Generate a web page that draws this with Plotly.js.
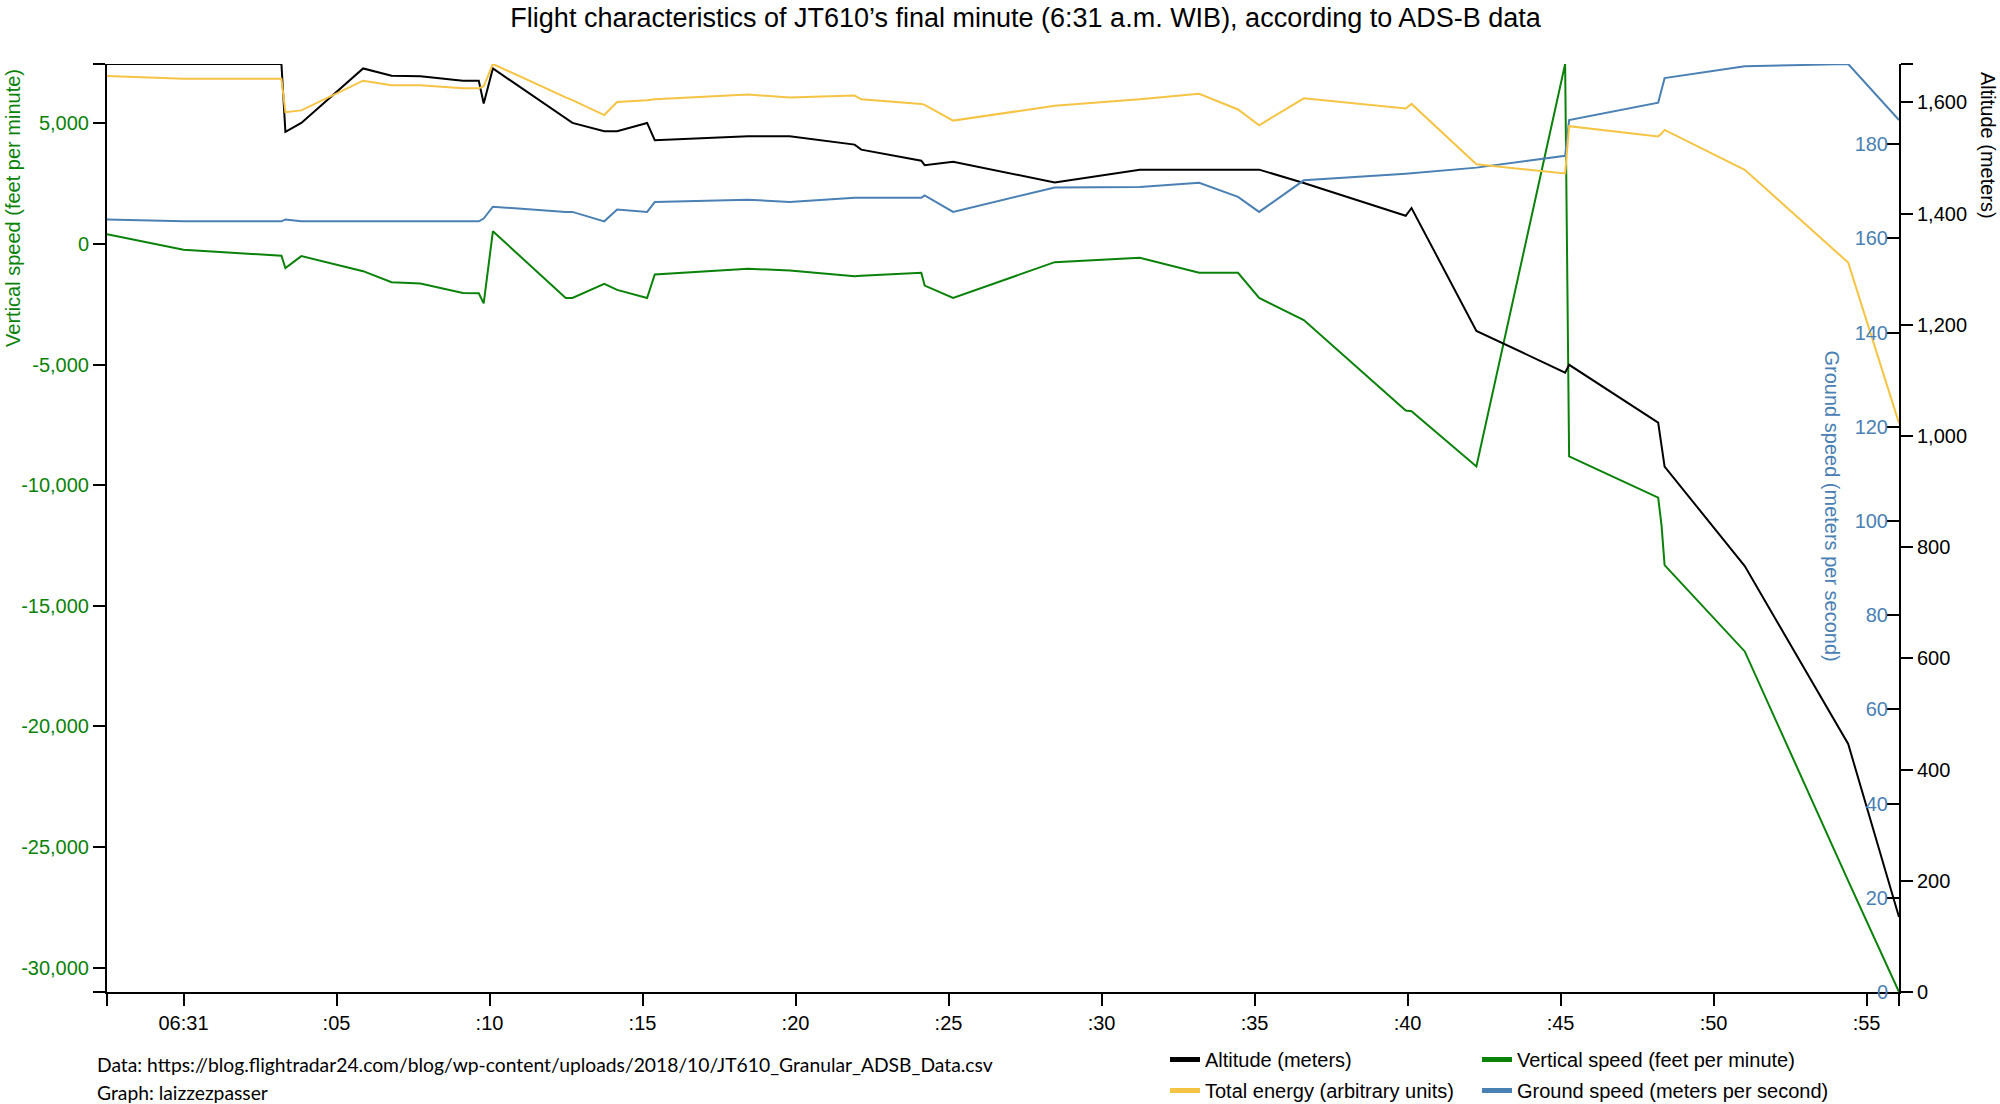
<!DOCTYPE html>
<html>
<head>
<meta charset="utf-8">
<script src="https://cdn.plot.ly/plotly-3.0.1.min.js"></script>
<style>
    html, body { margin: 0; padding: 0; background: #fff; }
    #chart { width: 2000px; height: 1104px; }
</style>
</head>
<body>
<div id="chart"></div>
<script>
// Time of each ADS-B sample, in seconds after 06:31:00 WIB
const seconds = [-2.5, 0, 3.2, 3.33, 3.85, 5.87, 6.8, 7.74, 9.13, 9.65, 9.81, 10.11, 12.49, 12.71, 13.75, 14.17, 15.15, 15.4, 18.45, 19.81, 21.93, 22.15, 24.11, 24.22, 25.15, 28.47, 31.25, 33.19, 34.46, 35.15, 36.61, 39.94, 40.13, 42.25, 45.15, 45.28, 48.19, 48.3, 48.4, 51.02, 54.4, 56.06];

// Series
const altitude = [1669, 1669, 1669, 1547, 1563, 1661, 1648, 1647, 1639, 1639, 1598, 1661, 1572, 1563, 1548, 1548, 1563, 1532, 1539, 1539, 1524, 1515, 1495, 1487, 1493, 1456, 1479, 1479, 1479, 1479, 1455, 1396, 1410, 1189, 1114, 1128, 1024, 985, 945, 766, 446, 135];
const verticalSpeed = [400, -238, -488, -1004, -504, -1129, -1588, -1642, -2029, -2046, -2463, 525, -2238, -2238, -1654, -1904, -2238, -1267, -1029, -1100, -1338, -1320, -1196, -1725, -2238, -754, -571, -1196, -1196, -2238, -3154, -6904, -6934, -9225, 7460, -8809, -10513, -11663, -13317, -16892, -26400, -31010];
const groundSpeed = [164.0, 163.6, 163.6, 164.0, 163.6, 163.6, 163.6, 163.6, 163.6, 163.6, 164.2, 166.7, 165.6, 165.6, 163.6, 166.1, 165.6, 167.7, 168.2, 167.7, 168.6, 168.6, 168.6, 169.1, 165.6, 170.8, 170.9, 171.8, 168.8, 165.6, 172.3, 173.7, 173.8, 175.0, 177.5, 185.1, 188.8, 191.4, 194.0, 196.5, 197.0, 185.1];
const totalEnergy = [98.7, 98.4, 98.4, 94.8, 95.0, 98.2, 97.7, 97.7, 97.4, 97.4, 97.6, 100, 96.4, 96.1, 94.5, 95.9, 96.1, 96.2, 96.7, 96.4, 96.6, 96.2, 95.7, 95.6, 93.9, 95.5, 96.2, 96.8, 95.1, 93.4, 96.3, 95.2, 95.7, 89.2, 88.2, 93.3, 92.2, 92.5, 92.9, 88.6, 78.6, 61.3];

// Ticks
const timeTickVals = [0, 5, 10, 15, 20, 25, 30, 35, 40, 45, 50, 55];
const timeTickText = ['06:31', ':05', ':10', ':15', ':20', ':25', ':30', ':35', ':40', ':45', ':50', ':55'];
const vsTickVals = [-30000, -25000, -20000, -15000, -10000, -5000, 0, 5000];
const altTickVals = [0, 200, 400, 600, 800, 1000, 1200, 1400, 1600];
const gsTickVals = [0, 20, 40, 60, 80, 100, 120, 140, 160, 180];

const BLACK = '#000000';
const GREEN = '#0a820a';
const YELLOW = '#f6c444';
const BLUE = '#4a80b3';
const FONT = 'Liberation Sans, Arial, Helvetica, sans-serif';
const NOTE_FONT = 'Lato, sans-serif';

const fmt = v => v.toLocaleString('en-US');
const extent = arr => [Math.min(...arr), Math.max(...arr)];

const xExt = extent(seconds);
const vsExt = extent(verticalSpeed);
const altMax = Math.max(...altitude);
const gsMax = Math.max(...groundSpeed);
const eMax = Math.max(...totalEnergy);

// d3-style outer ticks at both ends of an axis (no label)
function withEnds(vals, labels, lo, hi) {
    return { v: [lo, ...vals, hi], t: ['', ...labels, ''] };
}
const xT = withEnds(timeTickVals, timeTickText, xExt[0], xExt[1]);
const vsT = withEnds(vsTickVals, vsTickVals.map(fmt), vsExt[0], vsExt[1]);
const altT = { v: [...altTickVals, altMax], t: [...altTickVals.map(fmt), ''] };

const lineTrace = (y, axis, color) => ({
    x: seconds, y: y, type: 'scatter', mode: 'lines', yaxis: axis,
    line: { color: color, width: 2 }, showlegend: false, hoverinfo: 'skip'
});

const traces = [
    lineTrace(altitude, 'y2', BLACK),
    lineTrace(totalEnergy, 'y4', YELLOW),
    lineTrace(verticalSpeed, 'y', GREEN),
    lineTrace(groundSpeed, 'y3', BLUE)
];

// Legend entries (two columns -> two legends)
const legendItems = [
    { name: 'Altitude (meters)', color: BLACK, legend: 'legend' },
    { name: 'Total energy (arbitrary units)', color: YELLOW, legend: 'legend' },
    { name: 'Vertical speed (feet per minute)', color: GREEN, legend: 'legend2' },
    { name: 'Ground speed (meters per second)', color: BLUE, legend: 'legend2' }
];
legendItems.forEach((d, i) => {
    traces.push({
        x: [null], y: [null], type: 'scatter', mode: 'lines', name: d.name,
        legend: d.legend, legendgroup: 'g' + i,
        line: { color: d.color, width: 5 }, hoverinfo: 'skip'
    });
});

const axisBase = {
    showgrid: false, zeroline: false, showline: true, linecolor: BLACK, linewidth: 2,
    ticks: 'outside', ticklen: 12, tickwidth: 2, tickcolor: BLACK,
    tickmode: 'array', tickfont: { family: FONT, size: 20, color: BLACK }
};

const legendBase = {
    orientation: 'v', xanchor: 'left', yanchor: 'top', bgcolor: 'rgba(0,0,0,0)',
    font: { family: FONT, size: 20, color: BLACK }, tracegroupgap: 2, itemwidth: 30
};

const axisTitle = (text, x, y, angle, color) => ({
    text: text, xref: 'paper', yref: 'paper', x: x, y: y, xanchor: 'center', yanchor: 'middle',
    textangle: angle, showarrow: false, font: { family: FONT, size: 20, color: color }
});

const note = (text, y) => ({
    text: text, xref: 'paper', yref: 'paper', x: -0.0067, y: y, xanchor: 'left', yanchor: 'middle',
    showarrow: false, font: { family: NOTE_FONT, size: 19.3, color: BLACK }
});

const layout = {
    width: 2000, height: 1104,
    margin: { l: 107, r: 101, t: 64, b: 112, autoexpand: false },
    paper_bgcolor: '#ffffff', plot_bgcolor: '#ffffff',
    font: { family: FONT, size: 20, color: BLACK },
    title: {
        text: 'Flight characteristics of JT610’s final minute (6:31 a.m. WIB), according to ADS-B data',
        font: { family: FONT, size: 27, color: BLACK },
        x: 0.5126, xref: 'paper', xanchor: 'center',
        y: 0.9845, yref: 'container', yanchor: 'middle'
    },
    showlegend: true,
    xaxis: Object.assign({}, axisBase, {
        range: xExt, tickvals: xT.v, ticktext: xT.t
    }),
    yaxis: Object.assign({}, axisBase, {
        range: vsExt, tickvals: vsT.v, ticktext: vsT.t,
        tickfont: { family: FONT, size: 20, color: GREEN }
    }),
    yaxis2: Object.assign({}, axisBase, {
        overlaying: 'y', side: 'right', anchor: 'x',
        range: [0, altMax], tickvals: altT.v, ticktext: altT.t
    }),
    yaxis3: Object.assign({}, axisBase, {
        overlaying: 'y', side: 'right', anchor: 'x', showline: false,
        ticks: 'inside', ticklabelposition: 'inside', ticklabeloverflow: 'allow',
        range: [0, gsMax], tickvals: gsTickVals, ticktext: gsTickVals.map(fmt),
        tickfont: { family: FONT, size: 20, color: BLUE }
    }),
    yaxis4: { overlaying: 'y', visible: false, range: [0, eMax] },
    legend: Object.assign({}, legendBase, { x: 0.5904, y: -0.0517 }),
    legend2: Object.assign({}, legendBase, { x: 0.7645, y: -0.0517 }),
    annotations: [
        axisTitle('Vertical speed (feet per minute)', -0.0525, 0.8448, -90, GREEN),
        axisTitle('Altitude (meters)', 1.0497, 0.9127, 90, BLACK),
        axisTitle('Ground speed (meters per second)', 0.9626, 0.5232, 90, BLUE),
        note('Data: https://blog.flightradar24.com/blog/wp-content/uploads/2018/10/JT610_Granular_ADSB_Data.csv', -0.0776),
        note('Graph: laizzezpasser', -0.1078)
    ]
};

Plotly.newPlot('chart', traces, layout, { displayModeBar: false, staticPlot: true });
</script>
</body>
</html>
